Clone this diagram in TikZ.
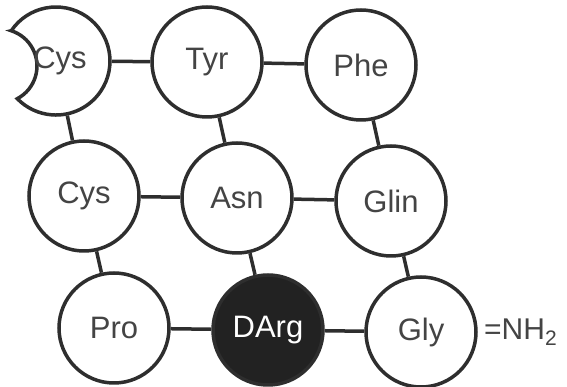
\documentclass[tikz,border=0pt]{standalone}
\usepackage{fontspec}
\setmainfont{Liberation Sans}
\definecolor{ink}{HTML}{2E2E2E}
\definecolor{txt}{HTML}{444444}
\definecolor{dark}{HTML}{222222}
\begin{document}
\begin{tikzpicture}[x=1pt,y=1pt,
  res/.style={circle,draw=ink,line width=3.5pt,fill=white,minimum size=110pt,inner sep=0pt,
    text=txt,font=\fontsize{31}{36}\selectfont},
  blackres/.style={res,fill=dark,text=white},
  bond/.style={draw=ink,line width=3.5pt}]
\useasboundingbox (0,0) rectangle (567,387);
% nodes
\node[res,draw=none,fill=none,minimum size=108pt] (cys1) at (56,326) {};
\node[res] (tyr) at (207,325) {Tyr};
\node[res] (phe) at (361,322) {Phe};
\node[res] (cys2) at (84,191) {Cys};
\node[res] (asn) at (237,189) {Asn};
\node[res] (glin) at (391,186) {Glin};
\node[res] (pro) at (114,59) {Pro};
\node[blackres] (darg) at (268,57) {DArg};
\node[res] (gly) at (421,55) {Gly};
\node[text=txt,font=\fontsize{30}{34}\selectfont,anchor=west,inner sep=0pt] (nh) at (484,55) {=NH\textsubscript{2}};
% bonds
\draw[bond] (cys1) -- (tyr);
\draw[bond] (tyr) -- (phe);
\draw[bond] (cys2) -- (asn);
\draw[bond] (asn) -- (glin);
\draw[bond] (pro) -- (darg);
\draw[bond] (darg) -- (gly);
\draw[bond] (cys1) -- (cys2);
\draw[bond] (tyr) -- (asn);
\draw[bond] (phe) -- (glin);
\draw[bond] (cys2) -- (pro);
\draw[bond] (asn) -- (darg);
\draw[bond] (glin) -- (gly);
% crescent-shaped Cys
\draw[draw=ink,line width=3.5pt,fill=white,line join=miter]
  (11.26,356.25) arc[start angle=145.9,end angle=-135.75,radius=54]
  arc[start angle=-62.1,end angle=72.3,radius=37] -- cycle;
\node[text=txt,font=\fontsize{31}{36}\selectfont,inner sep=0pt] (cyslabel) at (cys1.center) {\hspace*{8pt}Cys};
\end{tikzpicture}
\end{document}
